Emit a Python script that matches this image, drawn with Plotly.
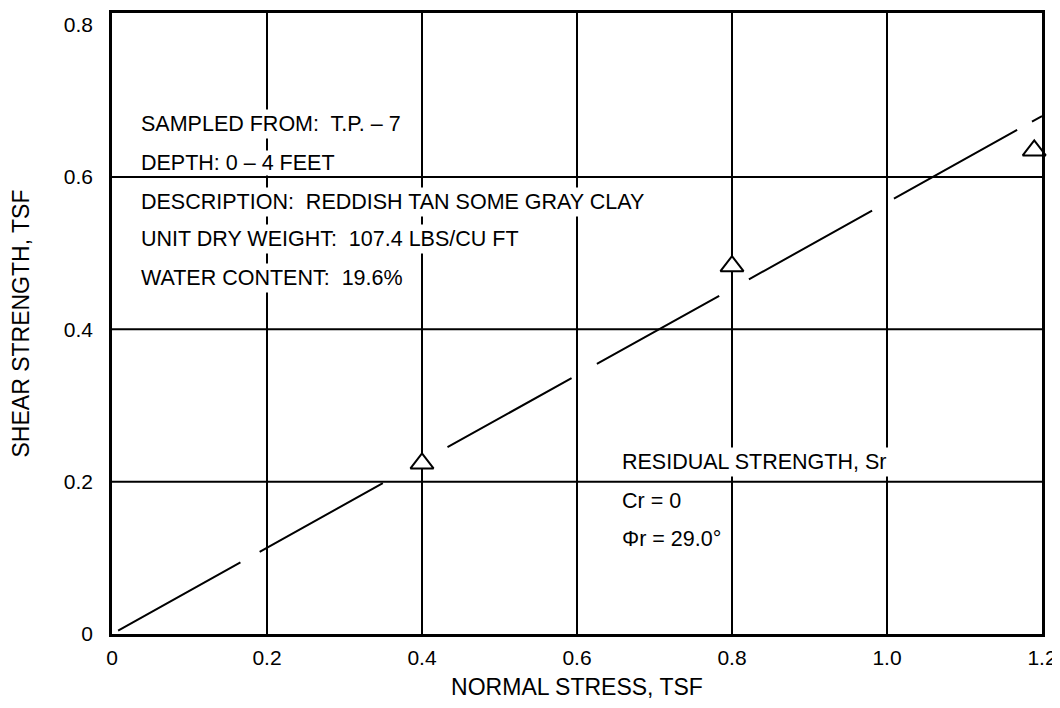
import plotly.graph_objects as go

# ---- data ----
normal_stress = [0.4, 0.8, 1.19]          # TSF (test points)
shear_strength = [0.224, 0.483, 0.635]    # TSF
fit_x = [0.0, 1.2]                        # residual strength envelope
fit_y = [0.0, 0.68]

x_ticks = [0, 0.2, 0.4, 0.6, 0.8, 1.0, 1.2]
x_tick_text = ["0", "0.2", "0.4", "0.6", "0.8", "1.0", "1.2"]
y_ticks = [0, 0.2, 0.4, 0.6, 0.8]
y_tick_text = ["0", "0.2", "0.4", "0.6", "0.8"]
y_grid = [0.2, 0.4, 0.6]

info_lines = [
    "SAMPLED FROM:  T.P. \u2013 7",
    "DEPTH: 0 \u2013 4 FEET",
    "DESCRIPTION:  REDDISH TAN SOME GRAY CLAY",
    "UNIT DRY WEIGHT:  107.4 LBS/CU FT",
    "WATER CONTENT:  19.6%",
]
info_y = [0.6696, 0.6184, 0.5672, 0.5186, 0.4674]
result_lines = ["RESIDUAL STRENGTH, Sr", "Cr = 0", "\u03a6r = 29.0\u00b0"]
result_y = [0.2258, 0.1746, 0.1247]

FONT = "Liberation Sans, Arial, Helvetica, sans-serif"

fig = go.Figure()

for gy in y_grid:
    fig.add_shape(type="line", xref="paper", yref="y", x0=0, x1=1, y0=gy, y1=gy,
                  line=dict(color="black", width=2), layer="below")

fig.add_trace(go.Scatter(
    x=fit_x, y=fit_y, mode="lines",
    line=dict(color="black", width=2,
              dash="0px,7px,140px,22px,141px,74px,142px,29px,140px,34px,141px,25px,141px,17px,60px,10px"),
    hoverinfo="skip", showlegend=False,
))

fig.add_trace(go.Scatter(
    x=normal_stress, y=shear_strength, mode="markers",
    marker=dict(symbol="triangle-up", size=20, color="white",
                line=dict(color="black", width=2)),
    showlegend=False, cliponaxis=False,
))

for i, (txt, yv) in enumerate(zip(info_lines, info_y)):
    fig.add_annotation(x=0.0366 if i == 1 else 0.034, y=yv, xref="x", yref="y", text=txt,
                       showarrow=False, xanchor="left", yanchor="middle",
                       bgcolor="white", borderpad=0 if i == 1 else 2,
                       font=dict(family=FONT, size=21.5, color="black"))

for txt, yv in zip(result_lines, result_y):
    fig.add_annotation(x=0.654, y=yv, xref="x", yref="y", text=txt,
                       showarrow=False, xanchor="left", yanchor="middle",
                       bgcolor="white", borderpad=2,
                       font=dict(family=FONT, size=21.5, color="black"))

fig.update_layout(
    width=1052, height=692,
    margin=dict(l=104, r=18, t=5, b=66, autoexpand=False),
    paper_bgcolor="white", plot_bgcolor="white",
    font=dict(family=FONT, size=21, color="black"),
    xaxis=dict(
        range=[0, 1.2], tickvals=x_ticks, ticktext=x_tick_text,
        showgrid=True, gridcolor="black", gridwidth=2,
        showline=True, linecolor="black", linewidth=2.5, mirror=True,
        zeroline=False, ticks="", ticklabelstandoff=3, automargin=False,
        tickfont=dict(family=FONT, size=21),
        title=dict(text="NORMAL STRESS, TSF", font=dict(family=FONT, size=23), standoff=13),
    ),
    yaxis=dict(
        range=[0, 0.8154], tickvals=y_ticks, ticktext=y_tick_text,
        showgrid=False,
        showline=True, linecolor="black", linewidth=2.5, mirror=True,
        zeroline=False, ticks="", ticklabelstandoff=12, automargin=False,
        tickfont=dict(family=FONT, size=21),
        title=dict(text="SHEAR STRENGTH, TSF", font=dict(family=FONT, size=23), standoff=29),
    ),
)

fig.write_html("out.html")
